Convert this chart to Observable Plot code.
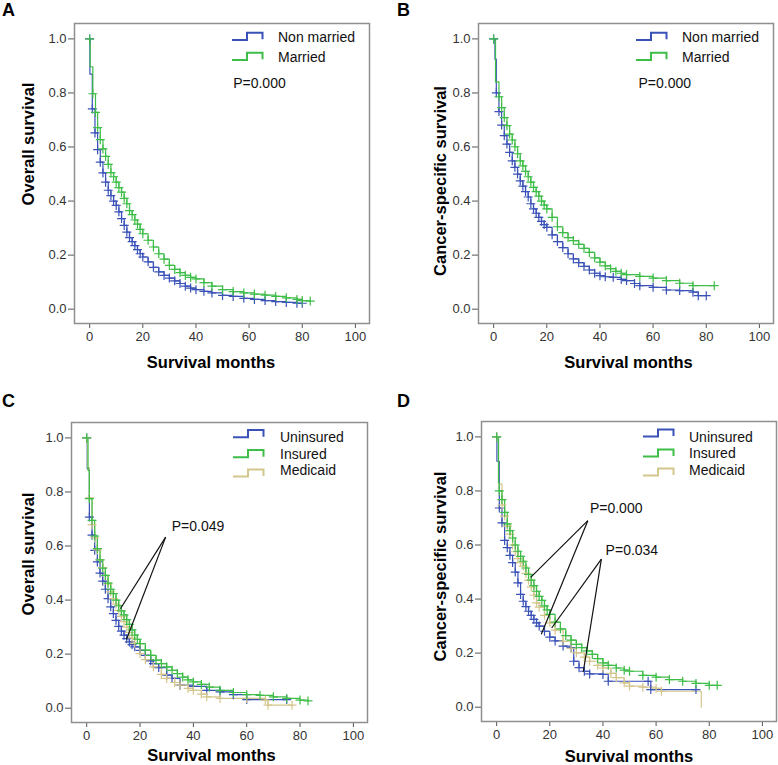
<!DOCTYPE html>
<html><head><meta charset="utf-8">
<script src="https://cdn.jsdelivr.net/npm/d3@7"></script>
<script src="https://cdn.jsdelivr.net/npm/@observablehq/plot@0.6"></script>
<style>
body{margin:0;background:#fff;}
#root{position:relative;width:778px;height:765px;font-family:"Liberation Sans",Arial,sans-serif;overflow:hidden;}
.panel{position:absolute;}
#overlay{position:absolute;left:0;top:0;pointer-events:none;}
</style></head><body><div id="root"></div>
<script>
// ---------- data (months, survival proportion) ----------
const xTicks = [0, 20, 40, 60, 80, 100];
const yTicks = [0, 0.2, 0.4, 0.6, 0.8, 1.0];

// Panel A: Overall survival by marital status
const tA_non = [0,0.1,1,2,3,4,5,6,7,8,9,10,11,12,13,14,15,16,17,18,19,20,22,24,26,28,30,32,34,36,38,40,43,46,50,54,58,62,66,70,74,78,80];
const sA_non = [1,0.87,0.741,0.652,0.59,0.544,0.504,0.47,0.44,0.42,0.40,0.384,0.36,0.335,0.31,0.285,0.265,0.25,0.235,0.22,0.205,0.193,0.175,0.155,0.138,0.125,0.115,0.105,0.095,0.085,0.078,0.072,0.066,0.06,0.051,0.047,0.04,0.036,0.032,0.028,0.025,0.022,0.022];
const tA_mar = [0,0.2,1.2,2.2,3,4,5,6,7,8,9,10,11,12,13,14,15,16,17,18,19,20,22,24,26,28,30,32,34,36,38,40,43,46,50,54,58,62,66,70,74,78,80,83];
const sA_mar = [1,0.897,0.797,0.728,0.672,0.627,0.593,0.565,0.536,0.505,0.49,0.47,0.45,0.433,0.41,0.39,0.365,0.35,0.33,0.315,0.295,0.279,0.255,0.23,0.205,0.185,0.162,0.147,0.135,0.125,0.118,0.112,0.098,0.085,0.072,0.065,0.06,0.056,0.052,0.047,0.042,0.036,0.032,0.03];

// Panel B: Cancer-specific survival by marital status
const tB_non = [0,0.5,1,2,3,4,5,6,7,8,9,10,11,12,13,14,15,16,17,18,19,20,22,24,26,28,30,32,34,36,38,40,42,45,48,50,53,55,60,65,70,75,77,80];
const sB_non = [1,0.925,0.80,0.731,0.681,0.642,0.611,0.58,0.549,0.525,0.50,0.475,0.455,0.435,0.415,0.39,0.371,0.355,0.34,0.325,0.313,0.303,0.275,0.25,0.228,0.205,0.186,0.172,0.158,0.145,0.133,0.124,0.12,0.118,0.11,0.106,0.095,0.087,0.081,0.071,0.069,0.063,0.05,0.05];
const tB_mar = [0,0.7,2,3,4,5,6,7,8,9,10,11,12,13,14,15,16,17,18,19,20,22,24,26,28,30,32,34,36,38,40,42,44,46,48,50,55,60,65,70,75,83];
const sB_mar = [1,0.841,0.786,0.746,0.709,0.679,0.648,0.626,0.601,0.575,0.549,0.53,0.51,0.49,0.47,0.451,0.435,0.418,0.40,0.385,0.371,0.34,0.305,0.283,0.265,0.254,0.24,0.225,0.21,0.19,0.174,0.16,0.15,0.14,0.133,0.128,0.121,0.115,0.106,0.096,0.087,0.087];

// Panel C: Overall survival by insurance
const tC_un = [0,0.2,1,2,3,4,5,6,7,8,9,10,11,12,13,14,15,16,17,18,20,22,24,25,27,30,32,35,40,45,50,55,60,75];
const sC_un = [1,0.886,0.707,0.64,0.584,0.541,0.50,0.47,0.44,0.405,0.375,0.35,0.325,0.303,0.285,0.27,0.257,0.245,0.235,0.227,0.214,0.195,0.175,0.165,0.15,0.122,0.11,0.085,0.081,0.066,0.06,0.05,0.032,0.032];
const tC_ins = [0,0.5,1,2,3,4,5,6,7,8,9,10,11,12,13,14,15,16,17,18,19,20,22,24,26,28,30,32,34,36,38,40,43,46,50,55,60,65,70,75,80,83];
const sC_ins = [1,0.88,0.775,0.695,0.637,0.59,0.549,0.518,0.491,0.463,0.44,0.424,0.40,0.379,0.36,0.345,0.328,0.31,0.29,0.27,0.255,0.239,0.215,0.195,0.178,0.165,0.153,0.14,0.128,0.115,0.105,0.097,0.088,0.078,0.066,0.058,0.05,0.047,0.042,0.036,0.03,0.027];
const tC_med = [0,0.3,1,2,3,4,5,6,7,8,9,10,11,12,13,14,15,16,17,18,20,22,25,28,30,33,35,38,40,43,45,50,60,67,68,77];
const sC_med = [1,0.89,0.778,0.679,0.63,0.586,0.55,0.52,0.49,0.46,0.43,0.405,0.385,0.362,0.34,0.32,0.30,0.28,0.26,0.24,0.202,0.18,0.153,0.125,0.11,0.095,0.085,0.073,0.066,0.052,0.042,0.036,0.036,0.03,0.011,0.011];

// Panel D: Cancer-specific survival by insurance
const tD_un = [0,0.1,1,2,3,4,5,6,7,8,9,10,11,12,13,14,15,16,18,20,22,25,28,29,31,33,35,40,42,57,58,75];
const sD_un = [1,0.91,0.737,0.682,0.617,0.59,0.562,0.535,0.50,0.46,0.417,0.392,0.372,0.355,0.34,0.325,0.312,0.30,0.281,0.259,0.245,0.226,0.22,0.17,0.146,0.133,0.123,0.121,0.096,0.096,0.065,0.065];
const tD_ins = [0,0.7,1,2,3,4,5,6,7,8,9,10,11,12,13,14,15,16,17,18,19,20,22,24,26,28,30,32,34,36,38,40,42,45,48,50,55,60,65,70,75,80,83];
const sD_ins = [1,0.83,0.80,0.768,0.721,0.678,0.653,0.626,0.60,0.577,0.558,0.54,0.515,0.491,0.47,0.45,0.429,0.41,0.395,0.375,0.36,0.343,0.315,0.29,0.265,0.248,0.232,0.22,0.208,0.195,0.18,0.164,0.155,0.145,0.137,0.133,0.118,0.111,0.102,0.096,0.088,0.081,0.081];
const tD_med = [0,0.7,2,3,4,5,6,7,8,9,10,11,12,13,14,15,16,18,20,22,25,28,30,33,35,38,40,43,45,48,50,55,60,62,77];
const sD_med = [1,0.826,0.748,0.707,0.67,0.64,0.60,0.575,0.55,0.535,0.522,0.495,0.47,0.445,0.415,0.386,0.37,0.34,0.312,0.285,0.244,0.218,0.201,0.185,0.17,0.155,0.145,0.125,0.109,0.09,0.078,0.074,0.07,0.059,0];

// annotations (data coordinates)
const pTextA = [{t: 54.0, s: 0.836, label: "P=0.000"}];
const pTextB = [{t: 54.5, s: 0.834, label: "P=0.000"}];
const pTextC = [{t: 31.9, s: 0.673, label: "P=0.049"}];
const pTextD = [{t: 35.1, s: 0.736, label: "P=0.000"}, {t: 41.0, s: 0.579, label: "P=0.034"}];
const pLinksC = [
  {t1: 29.6, s1: 0.633, t2: 12.65, s2: 0.368},
  {t1: 29.6, s1: 0.633, t2: 14.9, s2: 0.254}
];
const pLinksD = [
  {t1: 34.3, s1: 0.690, t2: 12.8, s2: 0.480},
  {t1: 34.3, s1: 0.690, t2: 16.8, s2: 0.270},
  {t1: 39.4, s1: 0.548, t2: 20.7, s2: 0.293},
  {t1: 39.4, s1: 0.548, t2: 32.6, s2: 0.131}
];

const BLUE = "#3a52b8", GREEN = "#3ebd48", TAN = "#d3c68c";

// ---------- helpers ----------
function rows(t, s) { return t.map((v, i) => ({t: v, s: s[i]})); }
function censors(t, s) {
  return rows(t, s).filter((d, i) => (i === 0 || d.t >= 1) && d.s > 0);
}

const root = document.getElementById("root");

function panel(cfg) {
  const marks = [
    Plot.axisX({ticks: xTicks, tickSize: 5, tickPadding: 3, label: null, fill: "#333", stroke: "#555", tickFormat: d => String(d)}),
    Plot.axisY({ticks: yTicks, tickSize: 6, tickPadding: 2, label: null, fill: "#333", stroke: "#555", tickFormat: d3.format(".1f")}),
    Plot.frame({stroke: "#8f8f8f", strokeWidth: 1.5})
  ];
  for (const ser of cfg.series) {
    marks.push(Plot.line(rows(ser.t, ser.s), {x: "t", y: "s", curve: "step-after", stroke: ser.color, strokeWidth: 1.2}));
  }
  for (const ser of cfg.series) {
    marks.push(Plot.dot(censors(ser.t, ser.s), {x: "t", y: "s", symbol: "plus", r: 3, stroke: ser.color, strokeWidth: 1.2}));
  }
  if (cfg.links) {
    marks.push(Plot.link(cfg.links, {x1: "t1", y1: "s1", x2: "t2", y2: "s2", stroke: "#111", strokeWidth: 1.2}));
  }
  marks.push(Plot.text(cfg.ptext, {x: "t", y: "s", text: "label", textAnchor: "start", lineAnchor: "middle", fontSize: 14, fill: "#111"}));
  marks.push(Plot.text([cfg.ytitle], {frameAnchor: "left", text: d => d, rotate: -90, textAnchor: "middle", lineAnchor: "middle", dx: cfg.ytdx, dy: cfg.ytdy, fontWeight: "bold", fontSize: 16.5, fill: "#000"}));
  marks.push(Plot.text(["Survival months"], {frameAnchor: "bottom", text: d => d, textAnchor: "middle", lineAnchor: "middle", dx: cfg.xtdx, dy: cfg.xtdy, fontWeight: "bold", fontSize: 16.5, fill: "#000"}));

  const svg = Plot.plot({
    width: cfg.w, height: cfg.h,
    marginLeft: cfg.mL, marginRight: cfg.mR, marginTop: cfg.mT, marginBottom: cfg.mB,
    x: {domain: [-5.7, 105.3]},
    y: {domain: [-0.053, 1.057]},
    style: {fontFamily: "Liberation Sans, Arial, sans-serif", fontSize: "13px", overflow: "visible", background: "transparent"},
    marks
  });
  const div = document.createElement("div");
  div.className = "panel";
  div.style.left = cfg.left + "px";
  div.style.top = cfg.top + "px";
  div.appendChild(svg);
  root.appendChild(div);
}

panel({left: 0, top: 0, w: 389, h: 380, mL: 74, mR: 20, mT: 23, mB: 57,
  series: [{t: tA_non, s: sA_non, color: BLUE}, {t: tA_mar, s: sA_mar, color: GREEN}],
  ptext: pTextA, ytitle: "Overall survival", ytdx: -45.5, ytdy: -29.5, xtdx: -11, xtdy: 39});
panel({left: 390, top: 0, w: 388, h: 380, mL: 88, mR: 5, mT: 23, mB: 57,
  series: [{t: tB_non, s: sB_non, color: BLUE}, {t: tB_mar, s: sB_mar, color: GREEN}],
  ptext: pTextB, ytitle: "Cancer-specific survival", ytdx: -38, ytdy: 7.5, xtdx: 2.5, xtdy: 39});
panel({left: 0, top: 380, w: 389, h: 385, mL: 71, mR: 22, mT: 42, mB: 43,
  series: [{t: tC_un, s: sC_un, color: BLUE}, {t: tC_med, s: sC_med, color: TAN}, {t: tC_ins, s: sC_ins, color: GREEN}],
  ptext: pTextC, links: pLinksC, ytitle: "Overall survival", ytdx: -42.5, ytdy: -18.5, xtdx: -8, xtdy: 33.5});
panel({left: 390, top: 380, w: 388, h: 385, mL: 91, mR: 2, mT: 41, mB: 44,
  series: [{t: tD_un, s: sD_un, color: BLUE}, {t: tD_med, s: sD_med, color: TAN}, {t: tD_ins, s: sD_ins, color: GREEN}],
  ptext: pTextD, links: pLinksD, ytitle: "Cancer-specific survival", ytdx: -41, ytdy: -5, xtdx: 0, xtdy: 35});

// ---------- overlay: panel letters & legends ----------
const panelLetters = ["A", "B", "C", "D"];
const legendNamesAB = ["Non married", "Married"];
const legendNamesCD = ["Uninsured", "Insured", "Medicaid"];

const NS = "http://www.w3.org/2000/svg";
const ov = document.createElementNS(NS, "svg");
ov.setAttribute("id", "overlay");
ov.setAttribute("width", 778); ov.setAttribute("height", 765);
root.appendChild(ov);
function txt(x, y, s, attrs) {
  const e = document.createElementNS(NS, "text");
  e.setAttribute("x", x); e.setAttribute("y", y);
  for (const k in attrs) e.setAttribute(k, attrs[k]);
  e.textContent = s; ov.appendChild(e);
}
function swatch(x, yc, color) {
  const p = document.createElementNS(NS, "path");
  p.setAttribute("d", `M${x},${yc + 3.6}H${x + 15}V${yc - 3.6}H${x + 30.5}V${yc + 3}`);
  p.setAttribute("fill", "none"); p.setAttribute("stroke", color); p.setAttribute("stroke-width", 2);
  ov.appendChild(p);
}
const letterPos = [[2, 16], [397, 16], [2, 407], [397, 407]];
panelLetters.forEach((L, i) => txt(letterPos[i][0], letterPos[i][1], L, {"font-size": 18, "font-weight": "bold", "font-family": "Liberation Sans, Arial, sans-serif", fill: "#000"}));

const legAB = [{sx: 232, tx: 278}, {sx: 636, tx: 682}];
const colAB = [BLUE, GREEN];
legAB.forEach(L => legendNamesAB.forEach((n, i) => {
  swatch(L.sx, 36.3 + 20 * i, colAB[i]);
  txt(L.tx, 37.3 + 19.5 * i, n, {"font-size": 14, "dominant-baseline": "central", "font-family": "Liberation Sans, Arial, sans-serif", fill: "#111"});
}));
const legCD = [{sx: 233, tx: 280, sy: [433.7, 453.7, 473], ty: [437.3, 454, 470]}, {sx: 643, tx: 689, sy: [433, 453, 472], ty: [436.7, 452.7, 470]}];
const colCD = [BLUE, GREEN, TAN];
legCD.forEach(L => legendNamesCD.forEach((n, i) => {
  swatch(L.sx, L.sy[i], colCD[i]);
  txt(L.tx, L.ty[i], n, {"font-size": 14, "dominant-baseline": "central", "font-family": "Liberation Sans, Arial, sans-serif", fill: "#111"});
}));
</script>
</body></html>
